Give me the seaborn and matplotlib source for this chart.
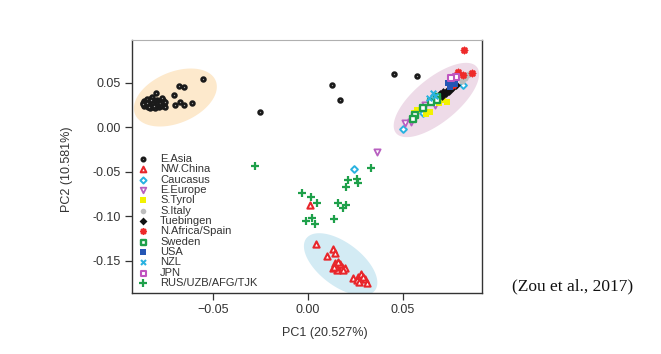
# -*- coding: utf-8 -*-
"""
PCA PC1 vs PC2 (Zou et al., 2017) - scatter with highlighted clusters
"""
import numpy as np
import matplotlib
matplotlib.use('Agg')
import matplotlib.pyplot as plt
import seaborn as sns
from matplotlib.patches import Polygon

# ======================================
# DATA
# ======================================
e_asia_x = [-0.0865, -0.0860, -0.0855, -0.0850, -0.0845, -0.0840, -0.0838, -0.0832, -0.0828, -0.0825,
            -0.0820, -0.0815, -0.0812, -0.0808, -0.0803, -0.0798, -0.0795, -0.0790, -0.0785, -0.0780,
            -0.0776, -0.0770, -0.0765, -0.0760, -0.0755, -0.0750, -0.0848, -0.0818, -0.0802, -0.0830,
            -0.0862, -0.0852, -0.0842, -0.0835, -0.0822, -0.0812, -0.0805, -0.0792, -0.0782, -0.0772,
            -0.0858, -0.0844, -0.0826, -0.0810, -0.0796, -0.0788, -0.0778, -0.0762, -0.0868, -0.0836,
            -0.0551, -0.0679, -0.0651, -0.0798, -0.0705, -0.0609, -0.0672, -0.0698, -0.0653, -0.0751,
            -0.0767, -0.0249, 0.0128, 0.0172, 0.0453, 0.0574]
e_asia_y = [0.0265, 0.0290, 0.0250, 0.0275, 0.0300, 0.0230, 0.0260, 0.0285, 0.0310, 0.0245,
            0.0270, 0.0295, 0.0220, 0.0255, 0.0280, 0.0240, 0.0305, 0.0265, 0.0230, 0.0290,
            0.0250, 0.0275, 0.0235, 0.0300, 0.0255, 0.0225, 0.0320, 0.0335, 0.0215, 0.0210,
            0.0240, 0.0260, 0.0285, 0.0245, 0.0255, 0.0270, 0.0290, 0.0250, 0.0260, 0.0245,
            0.0280, 0.0270, 0.0300, 0.0240, 0.0285, 0.0275, 0.0270, 0.0285, 0.0255, 0.0225,
            0.0539, 0.0464, 0.0453, 0.0382, 0.0360, 0.0270, 0.0281, 0.0247, 0.0247, 0.0284,
            0.0326, 0.0169, 0.0472, 0.0300, 0.0596, 0.0573]

nw_china_x = [0.0042, 0.0135, 0.0100, 0.0144, 0.0144, 0.0161, 0.0179, 0.0153, 0.0196, 0.0135,
              0.0240, 0.0266, 0.0280, 0.0302, 0.0311, 0.0258, 0.0150, 0.0170, 0.0185, 0.0290,
              0.0270, 0.0160, 0.0140, 0.0012]
nw_china_y = [-0.1315, -0.1374, -0.1446, -0.1419, -0.1531, -0.1550, -0.1570, -0.1607, -0.1588, -0.1588,
              -0.1700, -0.1682, -0.1652, -0.1711, -0.1750, -0.1719, -0.1560, -0.1540, -0.1600, -0.1680,
              -0.1735, -0.1515, -0.1575, -0.0876]

caucasus_x = [0.0503, 0.0608, 0.0245, 0.0816]
caucasus_y = [-0.0026, 0.0154, -0.0476, 0.0472]

e_europe_x = [0.0617, 0.0670, 0.0512, 0.0366, 0.0545]
e_europe_y = [0.0247, 0.0247, 0.0042, -0.0277, 0.0060]

s_tyrol_x = [0.0573, 0.0644, 0.0714, 0.0600, 0.0620, 0.0690, 0.0560, 0.0731]
s_tyrol_y = [0.0190, 0.0172, 0.0300, 0.0200, 0.0150, 0.0270, 0.0160, 0.0284]

s_italy_x = [0.0838, 0.0828, 0.0850, 0.0810]
s_italy_y = [0.0584, 0.0547, 0.0600, 0.0520]

tuebingen_x = [0.0696, 0.0714, 0.0735, 0.0750, 0.0765, 0.0725, 0.0745, 0.0705, 0.0780]
tuebingen_y = [0.0370, 0.0397, 0.0410, 0.0430, 0.0445, 0.0380, 0.0400, 0.0350, 0.0470]

n_africa_x = [0.0823, 0.0793, 0.0863, 0.0765, 0.0815]
n_africa_y = [0.0865, 0.0621, 0.0603, 0.0472, 0.0580]

sweden_x = [0.0679, 0.0679, 0.0605, 0.0565, 0.0556, 0.0650]
sweden_y = [0.0340, 0.0303, 0.0210, 0.0135, 0.0087, 0.0280]

usa_x = [0.0740, 0.0749, 0.0762, 0.0775]
usa_y = [0.0491, 0.0453, 0.0510, 0.0480]

nzl_x = [0.0661, 0.0670, 0.0640]
nzl_y = [0.0378, 0.0345, 0.0330]

jpn_x = [0.0780, 0.0755]
jpn_y = [0.0565, 0.0555]

rus_x = [-0.0277, 0.0332, 0.0214, 0.0258, 0.0266, 0.0202, -0.0032, 0.0017, 0.0047, 0.0161,
         0.0202, 0.0187, 0.0021, -0.0009, 0.0038, 0.0140]
rus_y = [-0.0435, -0.0457, -0.0596, -0.0588, -0.0633, -0.0670, -0.0738, -0.0783, -0.0850, -0.0850,
         -0.0876, -0.0907, -0.1019, -0.1056, -0.1090, -0.1037]

grupos = ['E.Asia', 'NW.China', 'Caucasus', 'E.Europe', 'S.Tyrol', 'S.Italy', 'Tuebingen',
          'N.Africa/Spain', 'Sweden', 'USA', 'NZL', 'JPN', 'RUS/UZB/AFG/TJK']
datos = {
    'E.Asia': (e_asia_x, e_asia_y),
    'NW.China': (nw_china_x, nw_china_y),
    'Caucasus': (caucasus_x, caucasus_y),
    'E.Europe': (e_europe_x, e_europe_y),
    'S.Tyrol': (s_tyrol_x, s_tyrol_y),
    'S.Italy': (s_italy_x, s_italy_y),
    'Tuebingen': (tuebingen_x, tuebingen_y),
    'N.Africa/Spain': (n_africa_x, n_africa_y),
    'Sweden': (sweden_x, sweden_y),
    'USA': (usa_x, usa_y),
    'NZL': (nzl_x, nzl_y),
    'JPN': (jpn_x, jpn_y),
    'RUS/UZB/AFG/TJK': (rus_x, rus_y),
}

# estilo de cada grupo: marker, color, facecolor, size, linewidth
estilos = {
    'E.Asia': ('o', '#1a1a1a', '#9a9a9a', 8, 1.8),
    'NW.China': ('^', '#e8262b', 'white', 20, 1.5),
    'Caucasus': ('D', '#29b2e0', 'white', 12, 1.4),
    'E.Europe': ('v', '#b860c0', 'white', 20, 1.3),
    'S.Tyrol': ('s', '#f2f200', '#f2f200', 22, 0.0),
    'S.Italy': ('o', '#bdbdbd', '#bdbdbd', 20, 0.0),
    'Tuebingen': ('D', '#111111', '#111111', 20, 0.0),
    'N.Africa/Spain': ((8, 2, 0), '#ee2a2a', None, 18, 1.3),
    'Sweden': ('s', '#1ea04a', 'white', 16, 1.7),
    'USA': ('s', '#2456b4', '#2456b4', 22, 0.0),
    'NZL': ('x', '#29b2e0', None, 16, 1.5),
    'JPN': ('s', '#c055c0', 'white', 16, 1.5),
    'RUS/UZB/AFG/TJK': ('+', '#1ea04a', None, 34, 1.6),
}

# ======================================
# FIGURE
# ======================================
sns.set_theme(style='white')
plt.rcParams['font.family'] = ['Liberation Sans', 'DejaVu Sans']

fig = plt.figure(figsize=(6.61, 3.54), dpi=100)
ax = fig.add_axes([0.1997, 0.172, 0.5295, 0.715])
ax.set_xlim(-0.0925, 0.0917)
ax.set_ylim(-0.1865, 0.0978)


def resaltar(ax, xs, ys, color, margen_a=11, margen_b=14):
    """Elipse de resalte alrededor de un grupo de puntos (en pixeles)"""
    pts = ax.transData.transform(np.column_stack([xs, ys]))
    # eje mayor: direccion entre los dos puntos mas alejados
    d = np.linalg.norm(pts[:, None, :] - pts[None, :, :], axis=2)
    i, j = np.unravel_index(d.argmax(), d.shape)
    u = (pts[j] - pts[i]) / d[i, j]
    v = np.array([-u[1], u[0]])
    pu, pv = pts @ u, pts @ v
    centro = (pu.max() + pu.min()) / 2 * u + (pv.max() + pv.min()) / 2 * v
    a = (pu.max() - pu.min()) / 2 + margen_a
    b = (pv.max() - pv.min()) / 2 + margen_b
    t = np.linspace(0, 2 * np.pi, 200)
    borde = centro + np.outer(a * np.cos(t), u) + np.outer(b * np.sin(t), v)
    borde = ax.transData.inverted().transform(borde)
    ax.add_patch(Polygon(borde, closed=True, facecolor=color, edgecolor='none', zorder=0))


# E.Asia cluster
ex, ey = np.array(e_asia_x), np.array(e_asia_y)
m = ex < -0.05
resaltar(ax, ex[m], ey[m], '#fde9cc')

# NW.China cluster
nx, ny = np.array(nw_china_x), np.array(nw_china_y)
m = ny < -0.12
resaltar(ax, nx[m], ny[m], '#d3ebf4')

# European cluster
px, py = [], []
for g in grupos[2:-1]:
    for x, y in zip(*datos[g]):
        if x > 0.045 and y < 0.08:
            px.append(x)
            py.append(y)
resaltar(ax, px, py, '#eedbe8', margen_a=8)

for g in grupos:
    xs, ys = datos[g]
    mk, col, fc, s, lw = estilos[g]
    kw = dict(marker=mk, s=s, linewidth=lw, label=g, zorder=3)
    if fc is None:
        kw['color'] = col
    else:
        kw['color'] = fc
        kw['facecolor'] = fc
        kw['edgecolor'] = col
    sns.scatterplot(x=xs, y=ys, ax=ax, **kw)

ax.set_xticks([-0.05, 0.0, 0.05])
ax.set_yticks([0.05, 0.0, -0.05, -0.10, -0.15])
ax.set_xticklabels(['\u22120.05', '0.00', '0.05'])
ax.set_yticklabels(['0.05', '0.00', '-0.05', '-0.10', '-0.15'])
ax.tick_params(axis='both', direction='out', length=5, width=0.9, color='#333333',
               labelsize=9, labelcolor='#333333', pad=3, left=True, bottom=True)

for lado in ['left', 'bottom', 'right']:
    ax.spines[lado].set_color('#333333')
    ax.spines[lado].set_linewidth(1.0)
ax.spines['top'].set_color('#b0b0b0')
ax.spines['top'].set_linewidth(0.8)

ax.set_xlabel('PC1 (20.527%)', fontsize=9, color='#333333')
ax.set_ylabel('PC2 (10.581%)', fontsize=9, color='#333333')
ax.xaxis.set_label_coords(0.55, -0.135)
ax.yaxis.set_label_coords(-0.17, 0.49)

ax.legend(loc='upper left', bbox_to_anchor=(0.02, 0.55), frameon=False, fontsize=8,
          handlelength=0.8, handletextpad=1.1, borderpad=0, borderaxespad=0,
          labelspacing=0.03, labelcolor='#333333', markerscale=0.9)

fig.text(0.866, 0.192, '(Zou et al., 2017)', family='Liberation Serif', fontsize=12.5,
         ha='center', va='center', color='#111111')

plt.savefig('out.png', dpi=100)
plt.close()
